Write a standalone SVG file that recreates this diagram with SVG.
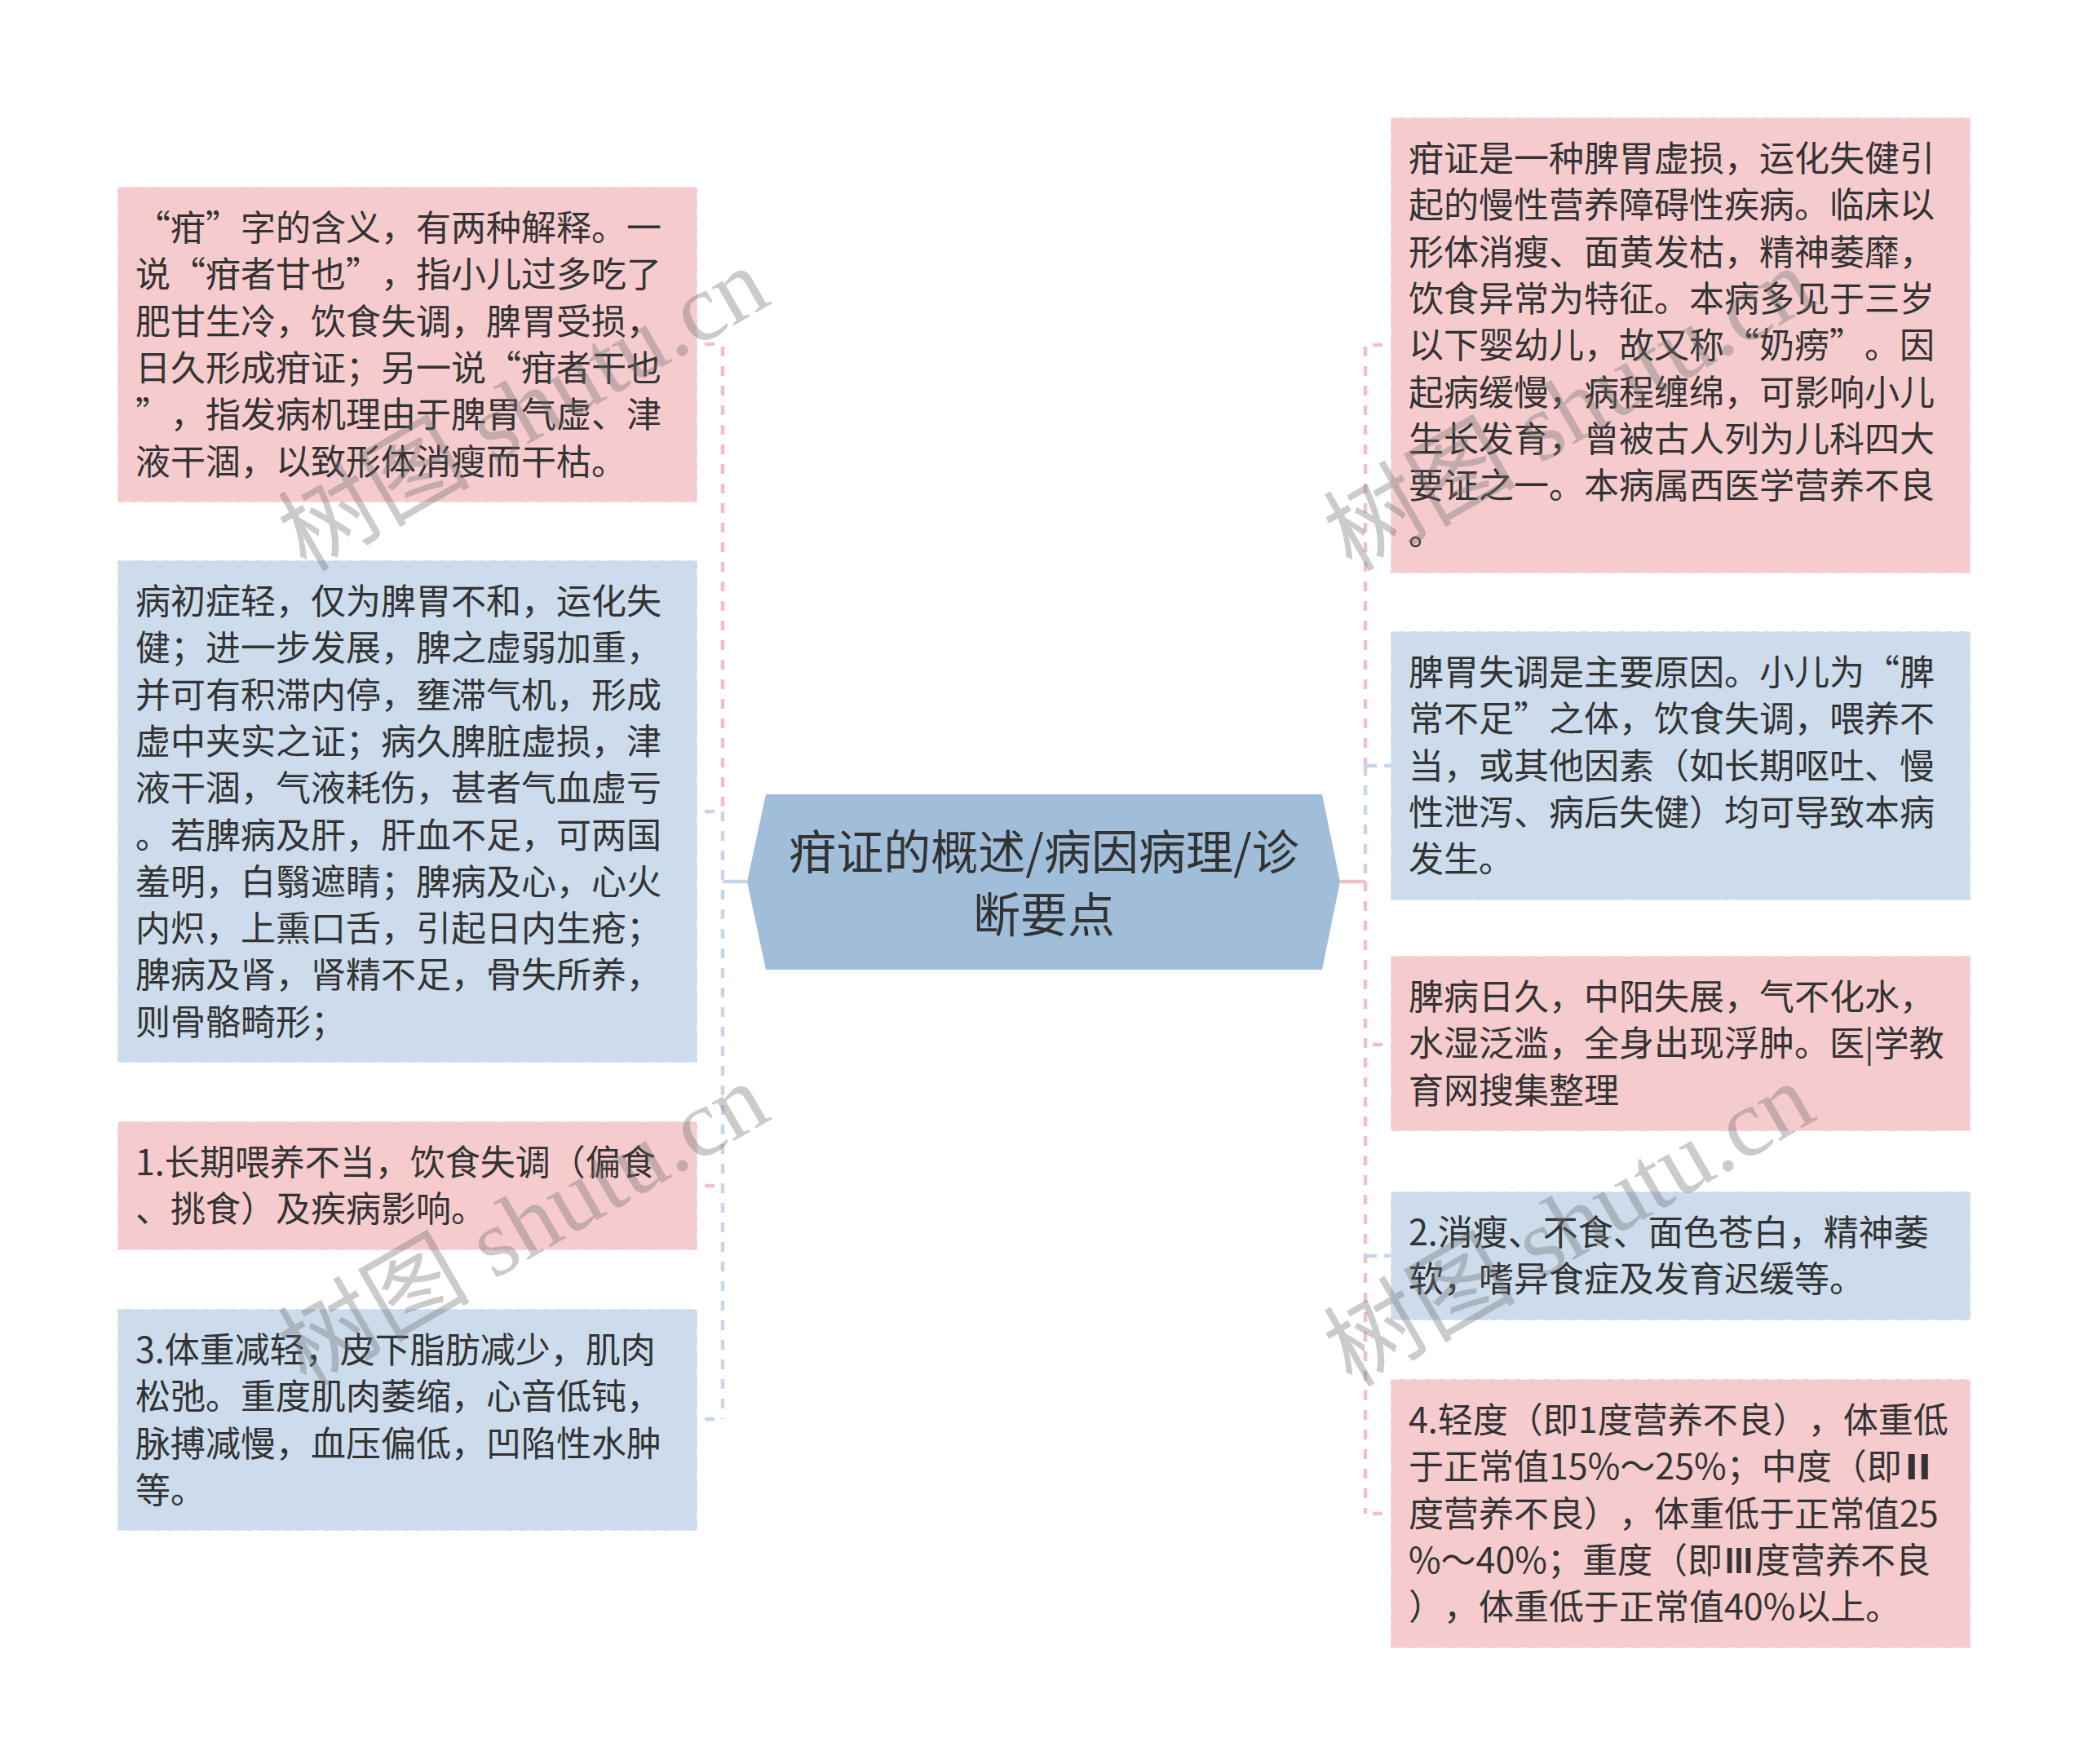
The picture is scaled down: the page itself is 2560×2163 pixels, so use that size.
<svg xmlns="http://www.w3.org/2000/svg" width="2560" height="2163" viewBox="0 0 2560 2163">
<style>
.t{font-family:"Noto Sans CJK SC","Noto Sans",sans-serif;font-size:43px;fill:#333333;text-spacing-trim:space-all;}
.rn{font-family:"DejaVu Sans","Noto Sans CJK SC",sans-serif;}
.ct{font-family:"Noto Sans CJK SC","Noto Sans",sans-serif;font-size:58px;fill:#333333;text-anchor:middle;}
.pink{fill:#F5CBCE;stroke:#ffffff;stroke-opacity:0.55;stroke-width:2;stroke-dasharray:10 6;}
.blue{fill:#CCDCEC;stroke:#ffffff;stroke-opacity:0.55;stroke-width:2;stroke-dasharray:10 6;}
.lp{stroke:#F2C0C4;stroke-width:4.5;fill:none;}
.lb{stroke:#C5D6E8;stroke-width:4.5;fill:none;}
.d{stroke-dasharray:12 12;}
.wm{font-family:"Liberation Serif","Noto Sans CJK SC",serif;font-size:118px;fill:#707070;fill-opacity:0.36;}
</style>
<rect width="2560" height="2163" fill="#ffffff"/>
<g id="connectors">
  <path class="lb" d="M916,1081 H886"/>
  <path class="lp d" d="M886,425 V995"/>
  <path class="lb d" d="M886,995 V1740"/>
  <path class="lp" d="M864,422 H876"/>
  <path class="lb" d="M864,995 H876"/>
  <path class="lp" d="M864,1454 H876"/>
  <path class="lb" d="M864,1740 H876"/>
  <path class="lp" d="M1643,1081 H1674"/>
  <path class="lp d" d="M1674,425 V939"/>
  <path class="lb d" d="M1674,939 V1081"/>
  <path class="lp d" d="M1674,1081 V1856"/>
  <path class="lp" d="M1683,423 H1695"/>
  <path class="lb" d="M1674,939 H1688 M1697,939 H1705"/>
  <path class="lp" d="M1683,1281 H1695"/>
  <path class="lb" d="M1674,1540 H1688 M1697,1540 H1705"/>
  <path class="lp" d="M1683,1856 H1695"/>
</g>
<g id="center">
  <polygon points="939,974 1621,974 1643,1081 1621,1189 939,1189 916,1081" fill="#A0BEDA"/>
  <text class="ct"><tspan x="1280" y="1066">疳证的概述/病因病理/诊</tspan><tspan x="1280" y="1143">断要点</tspan></text>
</g>
<g id="L1">
  <rect class="pink" x="144" y="229" width="711" height="387"/>
  <text class="t"><tspan x="166" y="295">“疳”字的含义，有两种解释。一</tspan><tspan x="166" y="352">说“疳者甘也”，指小儿过多吃了</tspan><tspan x="166" y="410">肥甘生冷，饮食失调，脾胃受损，</tspan><tspan x="166" y="467">日久形成疳证；另一说“疳者干也</tspan><tspan x="166" y="524">”，指发病机理由于脾胃气虚、津</tspan><tspan x="166" y="582">液干涸，以致形体消瘦而干枯。</tspan></text>
</g>
<g id="L2">
  <rect class="blue" x="144" y="687" width="711" height="616"/>
  <text class="t"><tspan x="166" y="753">病初症轻，仅为脾胃不和，运化失</tspan><tspan x="166" y="810">健；进一步发展，脾之虚弱加重，</tspan><tspan x="166" y="868">并可有积滞内停，壅滞气机，形成</tspan><tspan x="166" y="925">虚中夹实之证；病久脾脏虚损，津</tspan><tspan x="166" y="982">液干涸，气液耗伤，甚者气血虚亏</tspan><tspan x="166" y="1040">。若脾病及肝，肝血不足，可两国</tspan><tspan x="166" y="1097">羞明，白翳遮睛；脾病及心，心火</tspan><tspan x="166" y="1154">内炽，上熏口舌，引起日内生疮；</tspan><tspan x="166" y="1211">脾病及肾，肾精不足，骨失所养，</tspan><tspan x="166" y="1269">则骨骼畸形；</tspan></text>
</g>
<g id="L3">
  <rect class="pink" x="144" y="1375" width="711" height="158"/>
  <text class="t"><tspan x="166" y="1441">1.长期喂养不当，饮食失调（偏食</tspan><tspan x="166" y="1498">、挑食）及疾病影响。</tspan></text>
</g>
<g id="L4">
  <rect class="blue" x="144" y="1605" width="711" height="272"/>
  <text class="t"><tspan x="166" y="1671">3.体重减轻，皮下脂肪减少，肌肉</tspan><tspan x="166" y="1728">松弛。重度肌肉萎缩，心音低钝，</tspan><tspan x="166" y="1786">脉搏减慢，血压偏低，凹陷性水肿</tspan><tspan x="166" y="1843">等。</tspan></text>
</g>
<g id="R1">
  <rect class="pink" x="1705" y="144" width="711" height="559"/>
  <text class="t"><tspan x="1727" y="210">疳证是一种脾胃虚损，运化失健引</tspan><tspan x="1727" y="267">起的慢性营养障碍性疾病。临床以</tspan><tspan x="1727" y="325">形体消瘦、面黄发枯，精神萎靡，</tspan><tspan x="1727" y="382">饮食异常为特征。本病多见于三岁</tspan><tspan x="1727" y="439">以下婴幼儿，故又称“奶痨”。因</tspan><tspan x="1727" y="497">起病缓慢，病程缠绵，可影响小儿</tspan><tspan x="1727" y="554">生长发育，曾被古人列为儿科四大</tspan><tspan x="1727" y="611">要证之一。本病属西医学营养不良</tspan><tspan x="1727" y="668">。</tspan></text>
</g>
<g id="R2">
  <rect class="blue" x="1705" y="774" width="711" height="330"/>
  <text class="t"><tspan x="1727" y="840">脾胃失调是主要原因。小儿为“脾</tspan><tspan x="1727" y="897">常不足”之体，饮食失调，喂养不</tspan><tspan x="1727" y="955">当，或其他因素（如长期呕吐、慢</tspan><tspan x="1727" y="1012">性泄泻、病后失健）均可导致本病</tspan><tspan x="1727" y="1069">发生。</tspan></text>
</g>
<g id="R3">
  <rect class="pink" x="1705" y="1172" width="711" height="215"/>
  <text class="t"><tspan x="1727" y="1238">脾病日久，中阳失展，气不化水，</tspan><tspan x="1727" y="1295">水湿泛滥，全身出现浮肿。医|学教</tspan><tspan x="1727" y="1353">育网搜集整理</tspan></text>
</g>
<g id="R4">
  <rect class="blue" x="1705" y="1461" width="711" height="158"/>
  <text class="t"><tspan x="1727" y="1527">2.消瘦、不食、面色苍白，精神萎</tspan><tspan x="1727" y="1584">软，嗜异食症及发育迟缓等。</tspan></text>
</g>
<g id="R5">
  <rect class="pink" x="1705" y="1691" width="711" height="330"/>
  <text class="t"><tspan x="1727" y="1757">4.轻度（即1度营养不良），体重低</tspan><tspan x="1727" y="1814">于正常值15%～25%；中度（即<tspan class="rn" textLength="40" lengthAdjust="spacingAndGlyphs">Ⅱ</tspan></tspan><tspan x="1727" y="1872">度营养不良），体重低于正常值25</tspan><tspan x="1727" y="1929">%～40%；重度（即<tspan class="rn" textLength="40" lengthAdjust="spacingAndGlyphs">Ⅲ</tspan>度营养不良</tspan><tspan x="1727" y="1986">），体重低于正常值40%以上。</tspan></text>
</g>
<g id="watermarks">
  <text class="wm" transform="translate(375,702) rotate(-30)">树图 shutu.cn</text>
  <text class="wm" transform="translate(375,1702) rotate(-30)">树图 shutu.cn</text>
  <text class="wm" transform="translate(1657,702) rotate(-30)">树图 shutu.cn</text>
  <text class="wm" transform="translate(1657,1702) rotate(-30)">树图 shutu.cn</text>
</g>
</svg>
